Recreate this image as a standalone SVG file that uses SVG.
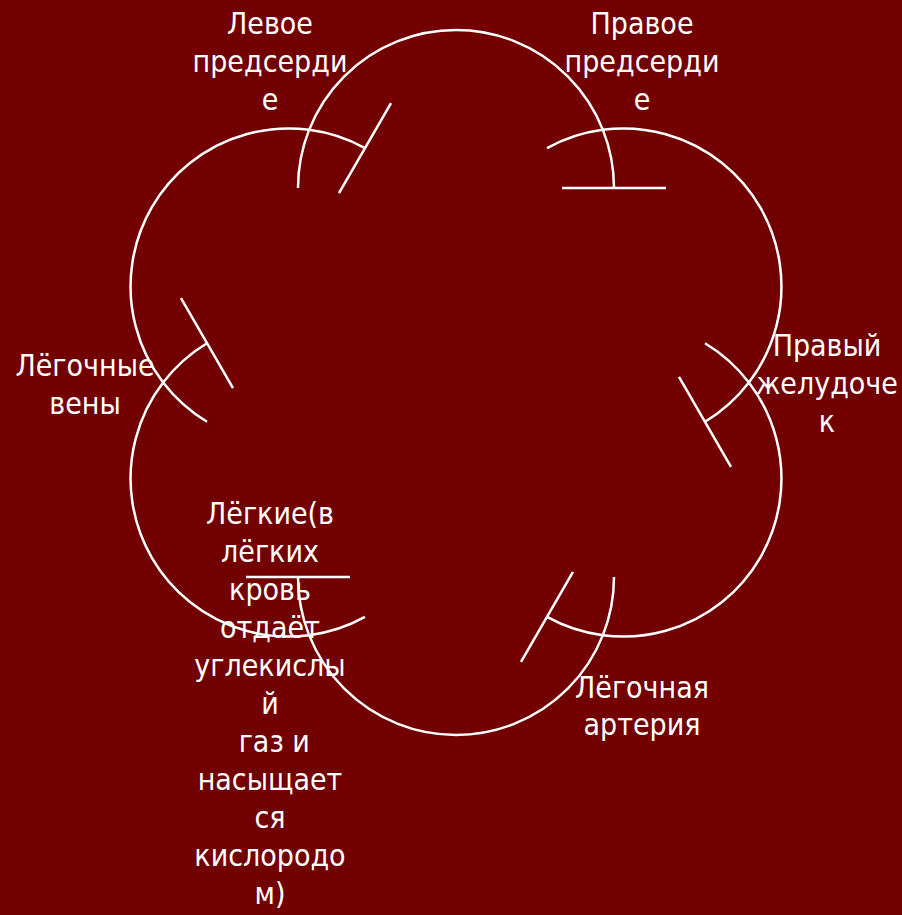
<svg xmlns="http://www.w3.org/2000/svg" width="902" height="915" viewBox="0 0 902 915">
<style>
.bg{fill:#720000}
.c{fill:none;stroke:#ffffff;stroke-width:2.5;stroke-linecap:butt}
.t{fill:#ffffff;font-family:"DejaVu Sans Condensed","DejaVu Sans",sans-serif;font-stretch:condensed;font-size:30px;text-anchor:middle}
</style>
<rect class="bg" x="0" y="0" width="902" height="915"/>
<g id="connectors">
<path class="c" d="M298 188 A158 158 0 0 1 614 188"/>
<line class="c" x1="562" y1="188" x2="666" y2="188"/>
<path class="c" d="M547 148.2 A158 158 0 0 1 705 421.8"/>
<line class="c" x1="679" y1="376.8" x2="731" y2="466.8"/>
<path class="c" d="M705 343.2 A158 158 0 0 1 547 616.8"/>
<line class="c" x1="573" y1="571.8" x2="521" y2="661.8"/>
<path class="c" d="M614 577 A158 158 0 0 1 298 577"/>
<line class="c" x1="246" y1="577" x2="350" y2="577"/>
<path class="c" d="M365 616.8 A158 158 0 0 1 207 343.2"/>
<line class="c" x1="181" y1="298.2" x2="233" y2="388.2"/>
<path class="c" d="M207 421.8 A158 158 0 0 1 365 148.2"/>
<line class="c" x1="391" y1="103.2" x2="339" y2="193.2"/>
</g>
<g id="left-atrium">
<text class="t" x="270" y="34">Левое</text>
<text class="t" x="270" y="72">предсерди</text>
<text class="t" x="270" y="110">е</text>
</g>
<g id="right-atrium">
<text class="t" x="642" y="34">Правое</text>
<text class="t" x="642" y="72">предсерди</text>
<text class="t" x="642" y="110">е</text>
</g>
<g id="right-ventricle">
<text class="t" x="827" y="356">Правый</text>
<text class="t" x="827" y="394">желудоче</text>
<text class="t" x="827" y="432">к</text>
</g>
<g id="pulmonary-artery">
<text class="t" x="642" y="698">Лёгочная</text>
<text class="t" x="642" y="735">артерия</text>
</g>
<g id="pulmonary-veins">
<text class="t" x="85" y="376">Лёгочные</text>
<text class="t" x="85" y="414">вены</text>
</g>
<g id="lungs">
<text class="t" x="270" y="524">Лёгкие(в</text>
<text class="t" x="270" y="562">лёгких</text>
<text class="t" x="270" y="600">кровь</text>
<text class="t" x="270" y="638">отдаёт</text>
<text class="t" x="270" y="676">углекислы</text>
<text class="t" x="270" y="714">й</text>
<text class="t" x="270" y="752" xml:space="preserve"> газ и</text>
<text class="t" x="270" y="790">насыщает</text>
<text class="t" x="270" y="828">ся</text>
<text class="t" x="270" y="866">кислородо</text>
<text class="t" x="270" y="904">м)</text>
</g>
</svg>
